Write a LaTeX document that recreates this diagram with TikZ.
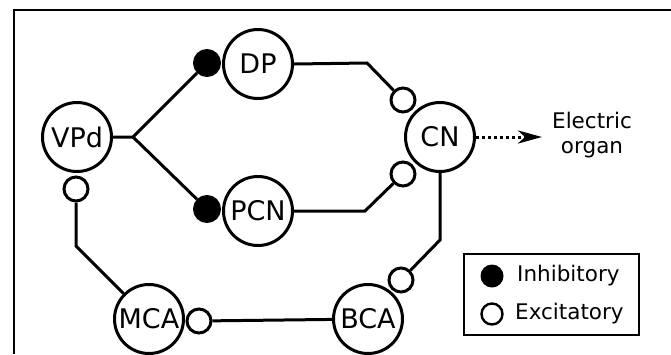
\documentclass[tikz,border=0pt]{standalone}
\usepackage{fontspec}
\setmainfont{DejaVu Sans}
\usetikzlibrary{arrows.meta}
\begin{document}
\begin{tikzpicture}[x=1pt,y=-1pt,
  neuron/.style={circle,draw,line width=3pt,minimum size=69pt,inner sep=0pt,font=\fontsize{27}{27}\selectfont},
  inhib/.style={circle,draw,fill=black,line width=3pt,minimum size=25pt,inner sep=0pt},
  excit/.style={circle,draw,fill=white,line width=3pt,minimum size=24pt,inner sep=0pt},
  conn/.style={line width=3pt,line join=miter},
  lbl/.style={font=\fontsize{21.5}{25}\selectfont}]
\useasboundingbox (0,0) rectangle (671,354);
\draw[line width=2.2pt] (14,354) -- (14,10) -- (671,10);
% neurons
\node[neuron] (VPd) at (77,137) {VPd};
\node[neuron] (DP)  at (258,64) {DP};
\node[neuron] (PCN) at (258,211) {PCN};
\node[neuron] (CN)  at (440,137) {CN};
\node[neuron] (MCA) at (149,319) {MCA};
\node[neuron] (BCA) at (368,319) {BCA};
% synapses
\node[inhib] (iDP)  at (207,63) {};
\node[inhib] (iPCN) at (207,209) {};
\node[excit] (eCN1) at (403,100) {};
\node[excit] (eCN2) at (403,174) {};
\node[excit] (eBCA) at (401,280) {};
\node[excit] (eVPd) at (76,189) {};
\node[excit] (eMCA) at (199,321) {};
% bend points
\coordinate (J) at (133,137);
\coordinate (b1) at (367,63);
\coordinate (b2) at (365,211);
\coordinate (b3) at (440,240);
\coordinate (b4) at (76,246);
\coordinate (EO) at (542,137);
% connectors
\draw[conn] (VPd.east) -- (J) -- (iDP);
\draw[conn] (J) -- (iPCN);
\draw[conn] (DP.east) -- (b1) -- (eCN1);
\draw[conn] (PCN.east) -- (b2) -- (eCN2);
\draw[conn] (CN.south) -- (b3) -- (eBCA);
\draw[conn] (eVPd.south) -- (b4) -- (MCA);
\draw[conn] (eMCA) -- (BCA);
\draw[line width=3pt,dash pattern=on 3pt off 3pt,-{Stealth[length=24pt,width=13pt,inset=7pt]}] (CN.east) -- (EO);
\node[lbl,align=center] (organ) at (592,135) {Electric\\organ};
% legend
\node[draw,line width=2.2pt,minimum width=175pt,minimum height=81pt,inner sep=0pt] (leg) at (551.5,294.5) {};
\node[circle,fill=black,minimum size=23pt,inner sep=0pt] (lI) at (492,276) {};
\node[circle,draw,line width=2.4pt,minimum size=21pt,inner sep=0pt] (lE) at (492,314) {};
\node[lbl,anchor=west,inner sep=0pt] (tI) at (517,276) {Inhibitory};
\node[lbl,anchor=west,inner sep=0pt] (tE) at (515,314) {Excitatory};
\end{tikzpicture}
\end{document}
